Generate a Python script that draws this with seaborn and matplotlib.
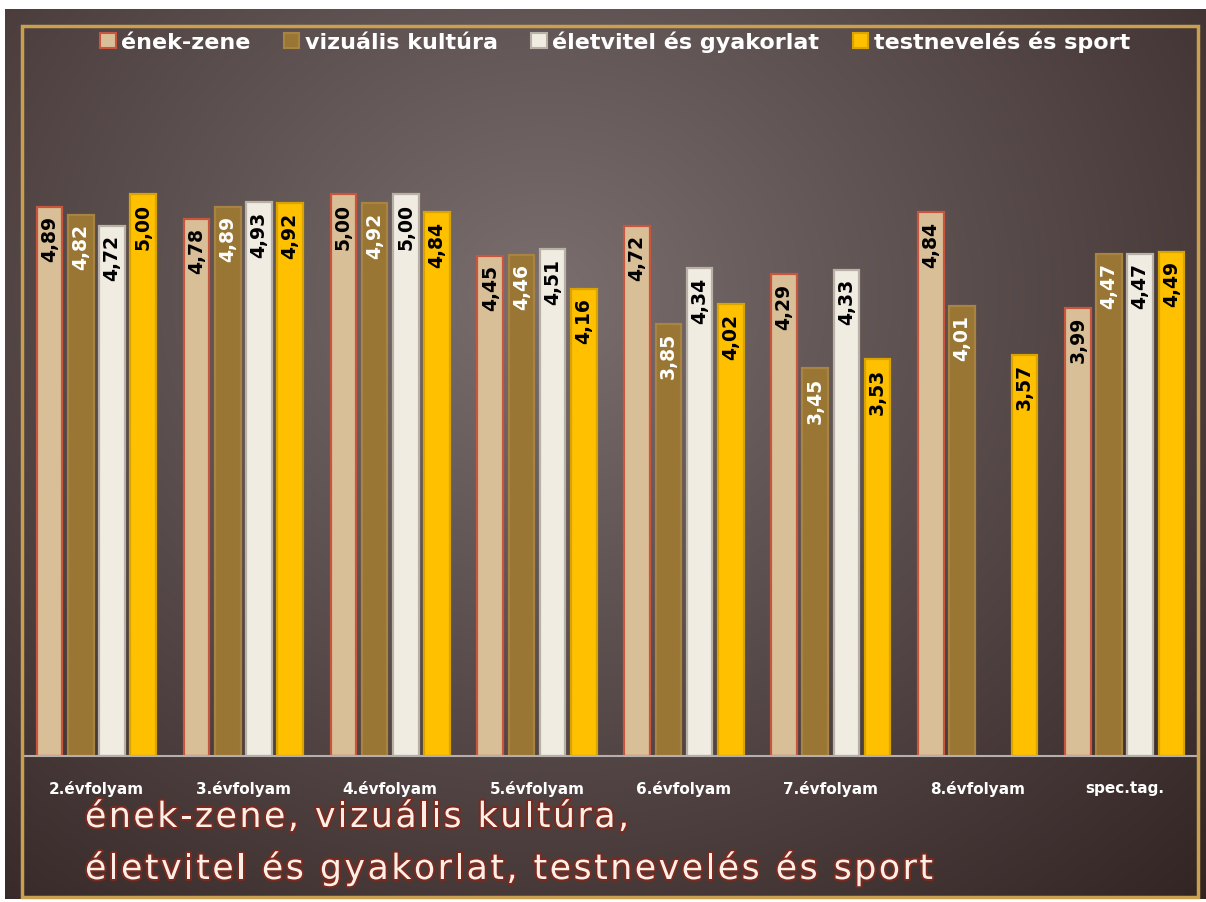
import numpy as np
import pandas as pd
import matplotlib
matplotlib.use('Agg')
import matplotlib.pyplot as plt
import matplotlib.patheffects as pe
from matplotlib.patches import Rectangle, Patch
from matplotlib.font_manager import FontProperties
from matplotlib.textpath import TextToPath
import seaborn as sns

# Adatok
evfolyamok = ['2.évfolyam', '3.évfolyam', '4.évfolyam', '5.évfolyam',
              '6.évfolyam', '7.évfolyam', '8.évfolyam', 'spec.tag.']
targyak = ['ének-zene', 'vizuális kultúra', 'életvitel és gyakorlat', 'testnevelés és sport']
enek_zene = [4.89, 4.78, 5.00, 4.45, 4.72, 4.29, 4.84, 3.99]
vizualis = [4.82, 4.89, 4.92, 4.46, 3.85, 3.45, 4.01, 4.47]
eletvitel = [4.72, 4.93, 5.00, 4.51, 4.34, 4.33, np.nan, 4.47]
testneveles = [5.00, 4.92, 4.84, 4.16, 4.02, 3.53, 3.57, 4.49]

cim_sor1 = 'ének-zene, vizuális kultúra,'
cim_sor2 = 'életvitel és gyakorlat, testnevelés és sport'

rows = []
for targy, vals in zip(targyak, [enek_zene, vizualis, eletvitel, testneveles]):
    for ev, v in zip(evfolyamok, vals):
        rows.append({'evfolyam': ev, 'targy': targy, 'ertek': v})
df = pd.DataFrame(rows).dropna()

fill_colors = ['#d9bf98', '#9a7634', '#f1ece1', '#ffc000']
edge_colors = ['#c8553d', '#a88440', '#b8b2a6', '#d9a300']
text_colors = ['black', 'white', 'black', 'black']

sns.set_theme(style='white')
plt.rcParams['font.family'] = ['DejaVu Sans']

W, H = 1206, 903
DPI = 100
fig = plt.figure(figsize=(W / DPI, H / DPI), dpi=DPI, facecolor='white')

# Háttér (radiális átmenet)
bg = fig.add_axes([5 / W, 3 / H, 1201 / W, 890 / H])
yy, xx = np.mgrid[0:1:300j, 0:1:400j]
r = np.sqrt(((xx - 0.45) / 0.8) ** 2 + ((yy - 0.32) / 0.95) ** 2)
r = np.clip(r, 0, 1)
c_in = np.array([122, 110, 110]) / 255
c_out = np.array([50, 36, 35]) / 255
img = c_in[None, None, :] * (1 - r[..., None]) + c_out[None, None, :] * r[..., None]
bg.imshow(img, aspect='auto', extent=[0, 1, 1, 0])
bg.set_xlim(0, 1)
bg.set_ylim(1, 0)
bg.axis('off')

# Keret
fig.patches.append(Rectangle((22 / W, 5 / H), 1176 / W, 871 / H, transform=fig.transFigure,
                             fill=False, edgecolor='#c9a04f', linewidth=2.5, zorder=5))

ax = fig.add_axes([23 / W, 146 / H, 1175 / W, 674 / H])
ax.patch.set_alpha(0)
sns.barplot(data=df, x='evfolyam', y='ertek', hue='targy', order=evfolyamok, hue_order=targyak,
            palette=fill_colors, width=0.85, gap=0.18, ax=ax, legend=False, saturation=1)

for cont, ec, tc in zip(ax.containers, edge_colors, text_colors):
    for bar in cont:
        h = bar.get_height()
        if np.isnan(h):
            continue
        bar.set_edgecolor(ec)
        bar.set_linewidth(1.6)
        ax.annotate(f'{h:.2f}'.replace('.', ','),
                    xy=(bar.get_x() + bar.get_width() / 2, h),
                    xytext=(0, -6), textcoords='offset points',
                    rotation=90, ha='center', va='top',
                    fontsize=13.5, fontweight='bold', color=tc)

ax.set_xlim(-0.5, 7.5)
ax.set_ylim(0, 6)
ax.set_yticks([])
ax.set_xlabel('')
ax.set_ylabel('')
for s in ['top', 'right', 'left']:
    ax.spines[s].set_visible(False)
ax.spines['bottom'].set_color('#b5b0ae')
ax.spines['bottom'].set_linewidth(1.5)
ax.tick_params(axis='x', length=0, pad=17, labelsize=11, labelcolor='white')
for lbl in ax.get_xticklabels():
    lbl.set_fontweight('bold')

handles = [Patch(facecolor=f, edgecolor=e, linewidth=1.5) for f, e in zip(fill_colors, edge_colors)]
fig.legend(handles, targyak, loc='center', bbox_to_anchor=(0.51, 0.953), ncol=4,
           frameon=False, handlelength=0.7, handleheight=0.7, handletextpad=0.25,
           columnspacing=1.5, labelcolor='white',
           prop={'weight': 'bold', 'size': 16})

# Cím ritkított betűközzel
title_prop = FontProperties(family='DejaVu Sans', size=25)
t2p = TextToPath()
stroke = [pe.withStroke(linewidth=3, foreground='#7a2a1e')]


def char_widths(s):
    return [t2p.get_text_width_height_descent(ch, title_prop, ismath=False)[0] * DPI / 72 for ch in s]


tracking = (933 - 85 - sum(char_widths(cim_sor2))) / (len(cim_sor2) - 1)


def tracked_text(s, x0, y):
    x = x0
    for ch, w in zip(s, char_widths(s)):
        fig.text(x / W, 1 - y / H, ch, fontproperties=title_prop, color='#fbefe8',
                 va='center', ha='left', path_effects=stroke)
        x += w + tracking


tracked_text(cim_sor1, 85, 818)
tracked_text(cim_sor2, 85, 870)

fig.savefig('out.png', dpi=DPI, facecolor='white')
